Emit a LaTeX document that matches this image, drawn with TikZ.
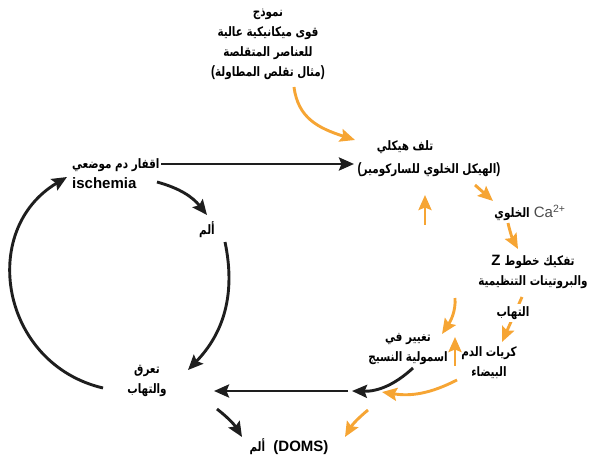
\documentclass[tikz,border=0pt]{standalone}
\usepackage{fontspec}
\usepackage{graphicx}
\setmainfont{Liberation Sans}
\newfontfamily\arfont[Script=Arabic]{DejaVu Sans}
\TeXXeTstate=1
\usetikzlibrary{arrows.meta}
\newcommand{\artxt}[1]{\scalebox{0.8}[1]{\fontsize{13}{20}\selectfont\arfont\beginR #1\endR}}
\definecolor{orng}{RGB}{246,165,52}
\definecolor{blk}{RGB}{30,30,30}
\tikzset{
  lbl/.style={inner sep=0pt, font=\bfseries\fontsize{15}{20}\selectfont, text=black},
  barr/.style={draw=blk, line width=2.9pt, -{Stealth[length=15pt,width=13pt,inset=2.5pt]}},
  oarr/.style={draw=orng, line width=2.9pt, -{Stealth[length=15pt,width=13pt,inset=2.5pt]}},
}
\begin{document}
\begin{tikzpicture}[x=1pt,y=-1pt]
\useasboundingbox (0,0) rectangle (594,462);
% text nodes
\node[lbl, align=center] (title) at (268,44) {\artxt{نموذج}\\ \artxt{قوى ميكانيكية عالية}\\ \artxt{للعناصر المتقلصة}\\ \scalebox{0.8}[1]{(}\artxt{مثال تقلص المطاولة}\scalebox{0.8}[1]{)}};
\node[lbl] (dmg1) at (405,147) {\artxt{تلف هيكلي}};
\node[lbl] (dmg2) at (429,170) {\scalebox{0.8}[1]{(}\artxt{الهيكل الخلوي للساركومير}\scalebox{0.8}[1]{)}};
\node[lbl, align=left, anchor=west] (isch) at (72,174) {\artxt{اقفار دم موضعي}\\ ischemia};
\node[lbl] (pain1) at (207,230) {\artxt{ألم}};
\node[lbl, align=center] (sweat) at (147,381) {\artxt{تعرق}\\ \artxt{والتهاب}};
\node[lbl] (doms) at (289,447) {\artxt{ألم}\ \ (DOMS)};
\node[lbl, align=center] (osm) at (408,349) {\artxt{تغيير في}\\ \artxt{اسمولية النسيج}};
\node[lbl, align=center] (wbc) at (489,363) {\artxt{كريات الدم}\\ \artxt{البيضاء}};
\node[lbl, align=center] (zdis) at (533,272) {Z\ \artxt{تفكيك خطوط}\\ \artxt{والبروتينات التنظيمية}};
\node[lbl] (ca) at (530,213) {\artxt{الخلوي} {\mdseries\color{blk!80}Ca\textsuperscript{2+}}};
% arrow end points
\coordinate (t0) at (294,87);   \coordinate (t1) at (355,140);
\coordinate (h0) at (161,164);  \coordinate (h1) at (354,164);
\coordinate (i0) at (157,182);  \coordinate (i1) at (207,215);
\coordinate (p0) at (225,242);  \coordinate (p1) at (188,370);
\coordinate (s0) at (103,388);  \coordinate (s1) at (67,177);
\coordinate (b0) at (348,391);  \coordinate (b1) at (214,391);
\coordinate (o0) at (413,368);  \coordinate (o1) at (352,391);
\coordinate (w0) at (457,380);  \coordinate (w1) at (382,392);
\coordinate (d0) at (368,410);  \coordinate (d1) at (345,437);
\coordinate (k0) at (217,409);  \coordinate (k1) at (242,437);
\coordinate (u0) at (425,225);  \coordinate (u1) at (425,195);
\coordinate (c0) at (475,185);  \coordinate (c1) at (493,201);
\coordinate (z0) at (508,223);  \coordinate (z1) at (518,249);
\coordinate (f0) at (522,297);  \coordinate (f1) at (502,342);
\coordinate (g0) at (455,298);  \coordinate (g1) at (442,334);
\coordinate (v0) at (455,366);  \coordinate (v1) at (455,337);
% black connectors
\draw[barr] (h0) -- (h1);
\draw[barr] (i0) to[bend left=18] (i1);
\draw[barr] (p0) to[bend left=28] (p1);
\draw[barr] (s0) .. controls (1,364) and (-22,230) .. (s1);
\draw[barr] (b0) -- (b1);
\draw[barr] (o0) to[bend left=22] (o1);
\draw[barr] (k0) to[bend left=10] (k1);
% orange connectors
\draw[oarr] (t0) .. controls (298,118) and (318,128) .. (t1);
\draw[oarr] (c0) -- (c1);
\draw[oarr] (u0) -- (u1);
\draw[oarr] (z0) to[bend right=8] (z1);
\draw[oarr] (f0) -- (f1);
\node[lbl, fill=white, inner sep=2pt] (infl) at (513,313) {\artxt{التهاب}};
\draw[oarr] (g0) .. controls (456,312) and (450,322) .. (g1);
\draw[oarr] (v0) -- (v1);
\draw[oarr] (w0) to[bend left=18] (w1);
\draw[oarr] (d0) to[bend right=10] (d1);
\end{tikzpicture}
\end{document}
